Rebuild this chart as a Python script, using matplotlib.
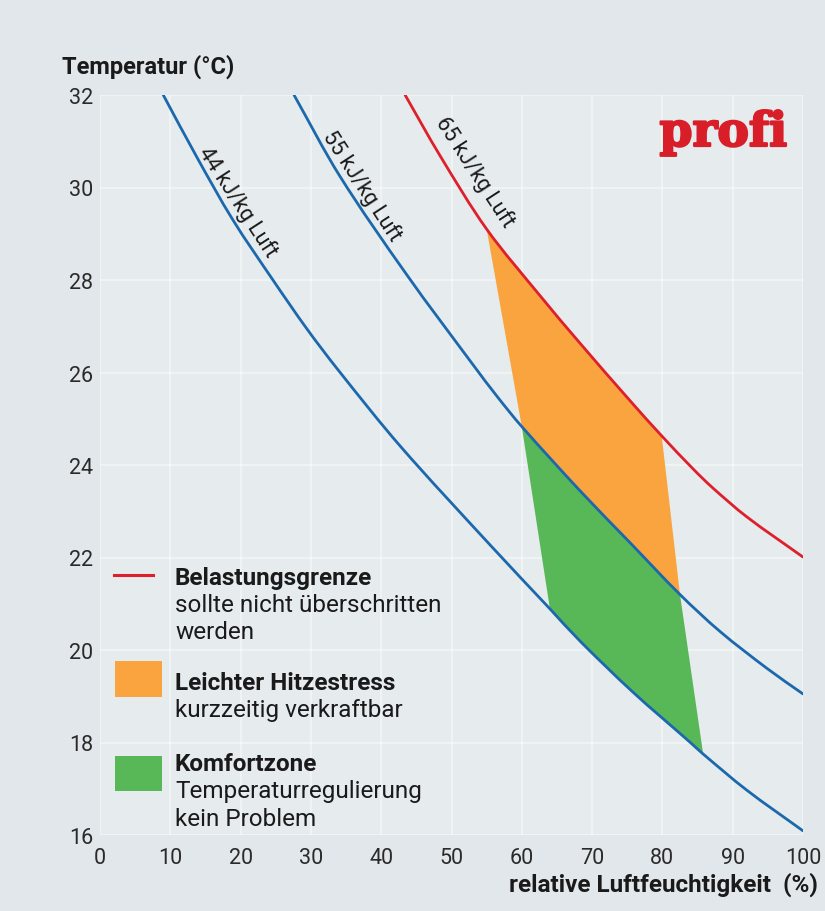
import matplotlib
matplotlib.use("Agg")
import numpy as np
import matplotlib.pyplot as plt
import matplotlib.patheffects as pe
from matplotlib.patches import Rectangle, Polygon, PathPatch
from matplotlib.path import Path

plt.rcParams['font.family'] = ['Roboto', 'DejaVu Sans']

# ---- data ----
# relative humidity (%) / temperature (°C) along the enthalpy curves
h44_rh = [9.0, 13.8, 18.9, 24.6, 29.4, 33.9, 42.7, 55.5, 64.0, 68.3, 75.8, 83.9, 85.8, 92.0, 100.0]
h44_t  = [32.0, 30.65, 29.3, 28.0, 26.95, 26.05, 24.41, 22.27, 20.89, 20.19, 19.09, 18.01, 17.75, 16.97, 16.09]

h55_rh = [27.6, 34.1, 43.7, 53.1, 56.5, 60.0, 68.3, 75.4, 82.5, 88.2, 94.9, 100.0]
h55_t  = [32.0, 30.25, 28.1, 26.16, 25.48, 24.83, 23.44, 22.32, 21.2, 20.4, 19.6, 19.05]

h65_rh = [43.4, 48.4, 55.0, 62.6, 68.3, 75.4, 79.9, 84.4, 87.2, 92.0, 100.0]
h65_t  = [32.0, 30.68, 29.1, 27.66, 26.63, 25.39, 24.63, 23.91, 23.5, 22.88, 22.01]

# zone outlines
stress_rh = [55.0, 62.6, 68.3, 75.4, 79.9, 82.5, 75.4, 68.3, 60.0]
stress_t  = [29.1, 27.66, 26.63, 25.39, 24.63, 21.2, 22.32, 23.44, 24.83]
komfort_rh = [60.0, 68.3, 75.4, 82.5, 85.8, 83.9, 75.8, 68.3, 64.0]
komfort_t  = [24.83, 23.44, 22.32, 21.2, 17.75, 18.01, 19.09, 20.19, 20.89]

curve_labels = ["44 kJ/kg Luft", "55 kJ/kg Luft", "65 kJ/kg Luft"]
label_pos = [(19.6, 29.7), (37.2, 30.05), (53.3, 30.35)]

x_ticks = [0, 10, 20, 30, 40, 50, 60, 70, 80, 90, 100]
y_ticks = [16, 18, 20, 22, 24, 26, 28, 30, 32]

# ---- figure ----
W, H = 825, 912
fig = plt.figure(figsize=(W / 100, H / 100), dpi=100, facecolor='#e1e7ea')
ax = fig.add_axes([100 / W, (H - 836) / H, 703 / W, 740 / H])
ax.set_facecolor('#e6ebed')
ax.set_xlim(0, 100)
ax.set_ylim(16, 32)
for s in ax.spines.values():
    s.set_visible(False)

ax.set_xticks(x_ticks)
ax.set_yticks(y_ticks)
ax.tick_params(length=0, labelsize=15.5, labelcolor='#2a2a2a')
ax.tick_params(axis='x', pad=9)
ax.tick_params(axis='y', pad=5)
ax.grid(True, color='white', lw=1.3, alpha=0.45)
ax.set_axisbelow(True)

blue = '#1c68ad'
red = '#de1f2c'
orange = '#f9a43f'
green = '#58b858'


def smooth_path(xs, ys, yscale=46.25 / 7.03):
    """Cubic Hermite path through every given point (rendered as Bezier segments)."""
    p = np.column_stack([xs, ys]).astype(float)
    q = p * [1.0, yscale]
    d = np.hypot(*np.diff(q, axis=0).T)
    t = np.concatenate([[0], np.cumsum(d)])
    n = len(p)
    m = np.zeros_like(p)
    for i in range(n):
        a, b = max(i - 1, 0), min(i + 1, n - 1)
        m[i] = (p[b] - p[a]) / (t[b] - t[a])
    verts = [p[0]]
    codes = [Path.MOVETO]
    for i in range(n - 1):
        h = t[i + 1] - t[i]
        verts += [p[i] + m[i] * h / 3, p[i + 1] - m[i + 1] * h / 3, p[i + 1]]
        codes += [Path.CURVE4] * 3
    return Path(verts, codes)


ax.add_patch(Polygon(list(zip(stress_rh, stress_t)), closed=True, fc=orange, ec='none', zorder=2))
ax.add_patch(Polygon(list(zip(komfort_rh, komfort_t)), closed=True, fc=green, ec='none', zorder=2))

for xs, ys, col in [(h44_rh, h44_t, blue), (h55_rh, h55_t, blue), (h65_rh, h65_t, red)]:
    ax.add_patch(PathPatch(smooth_path(xs, ys), fc='none', ec=col, lw=2.0, zorder=3,
                           capstyle='round', joinstyle='round'))

for txt, (lx, ly) in zip(curve_labels, label_pos):
    ax.text(lx, ly, txt, rotation=-57, rotation_mode='anchor', ha='center', va='center',
            fontsize=15.5, color='#1a1a1a', zorder=4)

# axis titles
fig.text(62 / W, 1 - 67 / H, "Temperatur (°C)", fontsize=17, fontweight='bold',
         color='#1a1a1a', ha='left', va='center')
fig.text(818 / W, 1 - 885 / H, "relative Luftfeuchtigkeit  (%)", fontsize=17.5, fontweight='bold',
         color='#1a1a1a', ha='right', va='center')

# logo
fig.text(787 / W, 1 - 134 / H, "profi", fontsize=34, fontweight='bold', color='#d81e28',
         family='DejaVu Serif', ha='right', va='center',
         path_effects=[pe.withStroke(linewidth=1.6, foreground='#d81e28')])

# legend (in figure pixel coords)
def fx(px):
    return px / W

def fy(py):
    return 1 - py / H

fig.add_artist(plt.Line2D([fx(114), fx(153)], [fy(576), fy(576)], color=red, lw=2.2,
                          transform=fig.transFigure))
fig.patches.append(Rectangle((fx(115), fy(698)), 47 / W, 36 / H, transform=fig.transFigure,
                             fc=orange, ec='none'))
fig.patches.append(Rectangle((fx(115), fy(792)), 47 / W, 35 / H, transform=fig.transFigure,
                             fc=green, ec='none'))

legend_items = [
    (578, "Belastungsgrenze", True),
    (606, "sollte nicht überschritten", False),
    (633, "werden", False),
    (684, "Leichter Hitzestress", True),
    (711, "kurzzeitig verkraftbar", False),
    (765, "Komfortzone", True),
    (792, "Temperaturregulierung", False),
    (820, "kein Problem", False),
]
for py, txt, bold in legend_items:
    fig.text(fx(175), fy(py), txt, fontsize=17.5, fontweight='bold' if bold else 'normal',
             color='#1a1a1a', ha='left', va='center')

fig.savefig('out.png', dpi=100, facecolor=fig.get_facecolor())
